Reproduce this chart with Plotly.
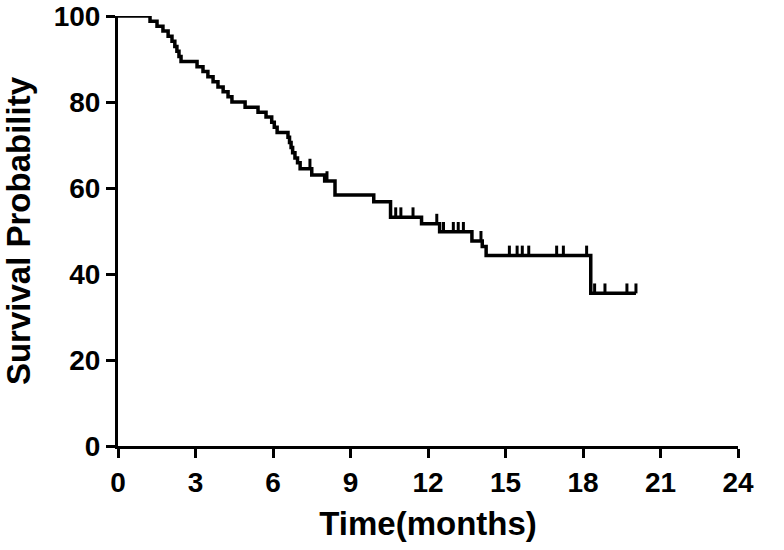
import bisect

import plotly.graph_objects as go

# Kaplan-Meier steps: time of each drop (months) and survival after it (%)
step_times = [0, 1.24, 1.51, 1.74, 1.94, 2.09, 2.2, 2.28, 2.36, 2.44,
              3.06, 3.29, 3.48, 3.68, 3.87, 4.07, 4.26, 4.41, 4.92, 5.42,
              5.73, 5.95, 6.05, 6.16, 6.58, 6.64, 6.70, 6.76, 6.85, 6.95,
              7.05, 7.5, 8.0, 8.4, 9.9, 10.55, 11.75, 12.45, 13.7, 14.1,
              14.25, 18.3, 20.05]
step_surv = [100, 98.8, 97.6, 96.5, 95.3, 94.1, 92.9, 91.8, 90.6, 89.4,
             88.2, 87.1, 85.9, 84.7, 83.5, 82.4, 81.2, 80.0, 78.8, 77.6,
             76.5, 75.3, 74.1, 72.9, 71.8, 70.6, 69.4, 68.2, 67.0, 65.9,
             64.5, 63.0, 61.6, 58.4, 56.8, 53.2, 51.7, 49.8, 47.7, 46.4,
             44.3, 35.5, 35.5]

# censored observations (months)
censor_times = [7.43, 8.09, 10.75, 10.95, 11.42, 12.34, 12.6, 12.98, 13.17, 13.37,
                14.05, 15.15, 15.45, 15.65, 15.9, 16.98, 17.24, 18.14, 18.45, 18.85,
                19.7, 20.05]

x_ticks = [0, 3, 6, 9, 12, 15, 18, 21, 24]
y_ticks = [0, 20, 40, 60, 80, 100]

TICK_H = 2.3  # height of censor marks, in % units


def surv_at(t):
    i = bisect.bisect_right(step_times, t) - 1
    return step_surv[max(i, 0)]


cx, cy = [], []
for t in censor_times:
    s = surv_at(t)
    cx += [t, t, None]
    cy += [s, s + TICK_H, None]

fig = go.Figure()
fig.add_trace(go.Scatter(x=step_times, y=step_surv, mode="lines", line_shape="hv",
                         line=dict(color="black", width=3.5), cliponaxis=False,
                         showlegend=False, hoverinfo="skip"))
fig.add_trace(go.Scatter(x=cx, y=cy, mode="lines",
                         line=dict(color="black", width=3), cliponaxis=False,
                         showlegend=False, hoverinfo="skip"))

font = "Liberation Sans, Arial, sans-serif"
fig.update_layout(
    width=784, height=550,
    margin=dict(l=118, r=46, t=16, b=104),
    plot_bgcolor="white", paper_bgcolor="white",
    font=dict(family=font, color="black"),
    xaxis=dict(range=[0, 24], tickvals=x_ticks, ticktext=[str(v) for v in x_ticks],
               showline=True, linecolor="black", linewidth=3, showgrid=False, zeroline=False,
               ticks="outside", ticklen=9, tickwidth=3, tickcolor="black",
               tickfont=dict(size=28, family=font, weight="bold"),
               ticklabeloverflow="allow",
               title=dict(text="<b>Time(months)</b>", font=dict(size=33, family=font), standoff=16),
               automargin=False),
    yaxis=dict(range=[0, 100], tickvals=y_ticks, ticktext=[str(v) for v in y_ticks],
               showline=True, linecolor="black", linewidth=3, showgrid=False, zeroline=False,
               ticks="outside", ticklen=9, tickwidth=3, tickcolor="black",
               tickfont=dict(size=28, family=font, weight="bold"),
               ticklabeloverflow="allow",
               title=dict(text="<b>Survival Probability</b>", font=dict(size=33, family=font), standoff=20),
               automargin=False),
)

# drop the browser's default body margin so the figure sits at the page corner
fig.write_html("out.html", config={"displayModeBar": False},
               post_script="document.body.style.margin='0';")
